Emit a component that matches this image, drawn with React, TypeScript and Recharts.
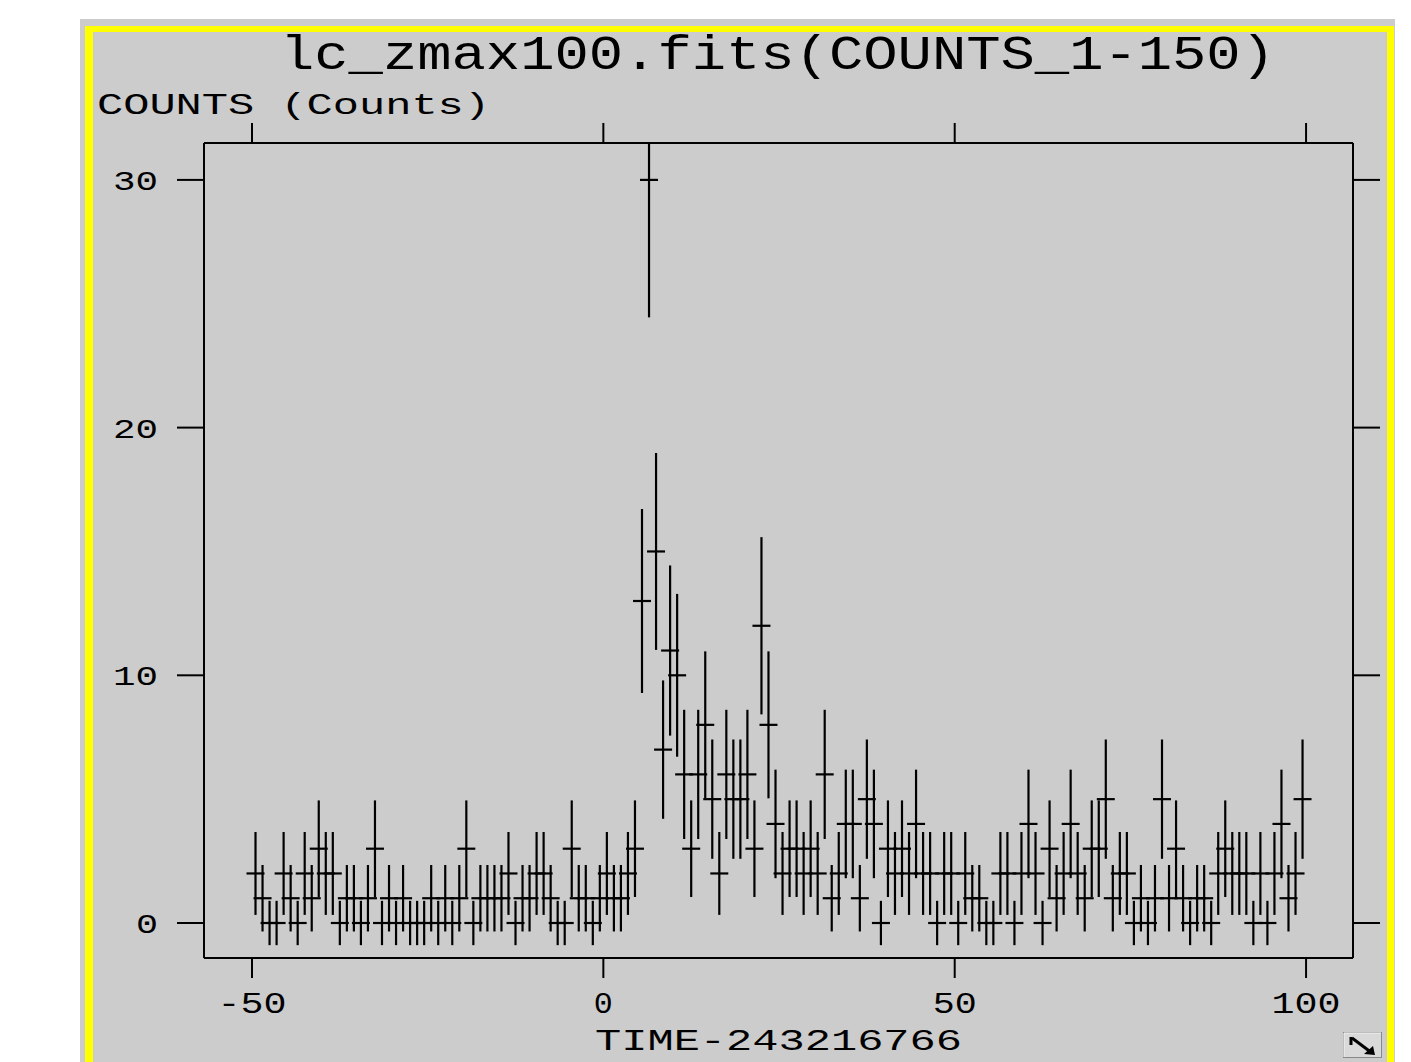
import React from 'react';
import { ScatterChart, Scatter, XAxis, YAxis, ErrorBar } from 'recharts';

// 1 s bins, first bin centred at TIME-243216766 = -49.5
const TIME_START = -49.5;
const BIN_SIZE = 1;

// COUNTS per bin (150 bins)
const counts = [
  2, 1, 0, 0, 2, 1, 0, 2, 1, 3,
  2, 2, 0, 1, 1, 0, 1, 3, 0, 1,
  0, 1, 0, 0, 0, 1, 0, 1, 0, 1,
  3, 0, 1, 1, 1, 1, 2, 0, 1, 1,
  2, 2, 1, 0, 0, 3, 1, 1, 0, 1,
  2, 1, 1, 2, 3, 13, 30, 15, 7, 11,
  10, 6, 3, 6, 8, 5, 2, 6, 5, 5,
  6, 3, 12, 8, 4, 2, 3, 3, 2, 3,
  2, 6, 1, 2, 4, 4, 1, 5, 4, 0,
  3, 2, 3, 2, 4, 2, 2, 0, 2, 2,
  0, 2, 1, 1, 0, 0, 2, 2, 0, 2,
  4, 2, 0, 3, 1, 2, 4, 2, 1, 3,
  3, 5, 1, 2, 2, 0, 1, 0, 1, 5,
  1, 3, 1, 0, 1, 1, 0, 2, 3, 2,
  2, 2, 0, 2, 0, 2, 4, 1, 2, 5,
];

const xTicks = [-50, 0, 50, 100];
const yTicks = [0, 10, 20, 30];

const TITLE = 'lc_zmax100.fits(COUNTS_1-150)';
const Y_LABEL = 'COUNTS (Counts)';
const X_LABEL = 'TIME-243216766';

const X_DOMAIN = [-56.83, 106.68];
const Y_DOMAIN = [-1.413, 31.49];

// poisson-like error on each bin; the upper part is cut at the frame like the original plot
const points = counts.map((c, i) => {
  const e = Math.sqrt(c + 0.8);
  return {
    t: TIME_START + i * BIN_SIZE,
    c,
    err: [e, Math.min(e, Y_DOMAIN[1] - c)],
  };
});

const W = 1411;
const H = 1062;
const GRAY = '#cccccc';
const FONT = '"Liberation Mono", "DejaVu Sans Mono", monospace';

const Cross = (props: any) => {
  const { cx, cy } = props;
  if (cx == null || cy == null) return <g />;
  return <line x1={cx - 9} x2={cx + 9} y1={cy} y2={cy} stroke="#000" strokeWidth={2.2} />;
};

const XTick = ({ x, payload }: any) => {
  const s = String(payload.value);
  return (
    <text
      x={x}
      y={1013}
      textAnchor="middle"
      fontFamily={FONT}
      fontSize={30}
      fill="#000"
      textLength={s.length * 25 - 6}
      lengthAdjust="spacingAndGlyphs"
    >
      {s}
    </text>
  );
};

const YTick = ({ y, payload }: any) => {
  const s = String(payload.value);
  return (
    <text
      x={158}
      y={y + 10}
      textAnchor="end"
      fontFamily={FONT}
      fontSize={28}
      fill="#000"
      textLength={s.length * 23 - 1}
      lengthAdjust="spacingAndGlyphs"
    >
      {s}
    </text>
  );
};

const NoTick = () => <g />;

export default function App() {
  return (
    <div style={{ position: 'absolute', left: 0, top: 0, width: W, height: H, overflow: 'hidden' }}>
      {/* window background and yellow highlight */}
      <div style={{ position: 'absolute', left: 80, top: 19, width: 1315, height: 1060, background: GRAY }} />
      <div
        style={{
          position: 'absolute',
          left: 85,
          top: 26,
          width: 1309,
          height: 1040,
          boxSizing: 'border-box',
          borderStyle: 'solid',
          borderColor: '#ffff00',
          borderWidth: '6px 7px 4px 8px',
        }}
      />

      <div style={{ position: 'absolute', left: 0, top: 0 }}>
        <ScatterChart width={W} height={H} margin={{ top: 123, right: 18, bottom: 44, left: 84 }}>
          <XAxis
            xAxisId="b"
            type="number"
            dataKey="t"
            domain={X_DOMAIN}
            allowDataOverflow
            ticks={xTicks}
            height={60}
            axisLine={{ stroke: '#000', strokeWidth: 2 }}
            tickLine={{ stroke: '#000', strokeWidth: 2 }}
            tickSize={20}
            tick={<XTick />}
          />
          <XAxis
            xAxisId="t"
            orientation="top"
            type="number"
            dataKey="t"
            domain={X_DOMAIN}
            allowDataOverflow
            ticks={xTicks}
            height={20}
            axisLine={{ stroke: '#000', strokeWidth: 2 }}
            tickLine={{ stroke: '#000', strokeWidth: 2 }}
            tickSize={20}
            tick={<NoTick />}
          />
          <YAxis
            yAxisId="l"
            type="number"
            dataKey="c"
            domain={Y_DOMAIN}
            allowDataOverflow
            ticks={yTicks}
            width={120}
            axisLine={{ stroke: '#000', strokeWidth: 2 }}
            tickLine={{ stroke: '#000', strokeWidth: 2 }}
            tickSize={27}
            tick={<YTick />}
          />
          <YAxis
            yAxisId="r"
            orientation="right"
            type="number"
            dataKey="c"
            domain={Y_DOMAIN}
            allowDataOverflow
            ticks={yTicks}
            width={40}
            axisLine={{ stroke: '#000', strokeWidth: 2 }}
            tickLine={{ stroke: '#000', strokeWidth: 2 }}
            tickSize={27}
            tick={<NoTick />}
          />
          <Scatter
            data={points}
            xAxisId="b"
            yAxisId="l"
            dataKey="c"
            shape={<Cross />}
            isAnimationActive={false}
          >
            <ErrorBar
              dataKey="err"
              direction="y"
              width={0}
              stroke="#000"
              strokeWidth={2.2}
              isAnimationActive={false}
            />
          </Scatter>
        </ScatterChart>
      </div>

      {/* titles */}
      <svg width={W} height={H} style={{ position: 'absolute', left: 0, top: 0, pointerEvents: 'none' }}>
        <text x={280} y={69} fontFamily={FONT} fontSize={48} fill="#000" textLength={995} lengthAdjust="spacingAndGlyphs">
          {TITLE}
        </text>
        <text x={97} y={114} fontFamily={FONT} fontSize={29} fill="#000" textLength={393} lengthAdjust="spacingAndGlyphs">
          {Y_LABEL}
        </text>
        <text x={595} y={1050} fontFamily={FONT} fontSize={30} fill="#000" textLength={367} lengthAdjust="spacingAndGlyphs">
          {X_LABEL}
        </text>
        {/* resize grip */}
        <rect x={1343.5} y={1032.5} width={38} height={25} fill="#d9d9d9" stroke="#888" strokeWidth={1} />
        <line x1={1344} y1={1033} x2={1381} y2={1033} stroke="#f4f4f4" strokeWidth={1} />
        <line x1={1344} y1={1033} x2={1344} y2={1057} stroke="#f4f4f4" strokeWidth={1} />
        <line x1={1351} y1={1037} x2={1351} y2={1045} stroke="#000" strokeWidth={3} />
        <line x1={1352} y1={1038} x2={1372} y2={1053} stroke="#000" strokeWidth={3} />
        <polygon points="1375,1055 1364,1054 1373,1046" fill="#000" />
      </svg>
    </div>
  );
}
